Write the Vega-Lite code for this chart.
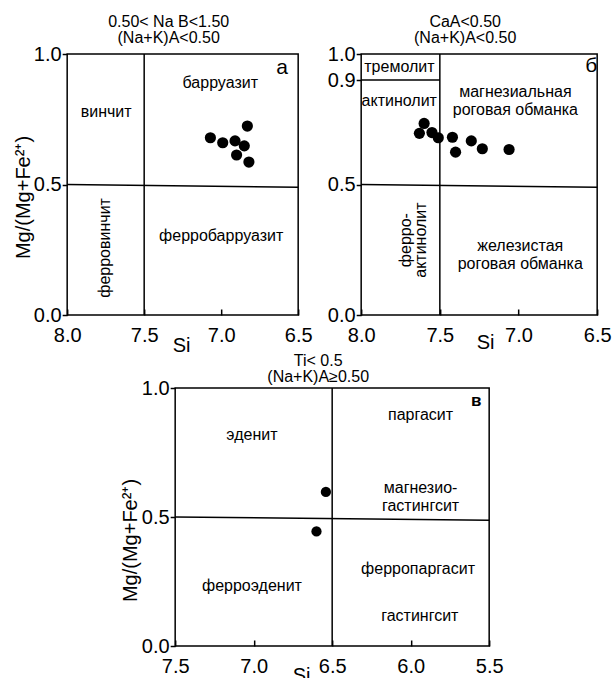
{
  "$schema": "https://vega.github.io/schema/vega-lite/v6.json",
  "padding": {"left": 12, "top": 13, "right": 2, "bottom": 0},
  "background": "white",
  "config": {
    "font": "Liberation Sans",
    "view": {"stroke": "black", "strokeWidth": 1.5},
    "axis": {
      "grid": false, "domain": false, "labelFontSize": 20, "labelColor": "black",
      "titleFontSize": 20, "titleFontWeight": "normal", "titleColor": "black",
      "tickColor": "black", "tickWidth": 1.5, "labelFont": "Liberation Sans", "titleFont": "Liberation Sans",
      "labelFlush": false, "labelOverlap": false, "labelBound": false
    },
    "axisY": {"tickSize": 5, "labelPadding": 1},
    "axisX": {"tickSize": -6, "labelPadding": 16.5},
    "title": {"fontSize": 16, "fontWeight": "normal", "color": "black", "font": "Liberation Sans", "lineHeight": 16, "offset": -2, "dx": -14},
    "text": {"font": "Liberation Sans", "fontSize": 16, "color": "black"}
  },
  "spacing": -6,
  "center": true,
  "vconcat": [
    {
      "spacing": 13,
      "hconcat": [
        {
          "width": 231, "height": 261,
          "title": {"text": ["0.50< Na B<1.50", "(Na+K)A<0.50"]},
          "layer": [
            {
              "data": {"values": [
                {"x1": 7.5, "y1": 0, "x2": 7.5, "y2": 1},
                {"x1": 8, "y1": 0.5, "x2": 6.5, "y2": 0.489}
              ]},
              "mark": {"type": "rule", "color": "black", "strokeWidth": 1.5},
              "encoding": {
                "x": {"field": "x1", "type": "quantitative", "scale": {"domain": [8, 6.5], "nice": false, "zero": false},
                      "axis": {"values": [8, 7.5, 7, 6.5], "format": ".1f", "title": "Si", "titleX": 114, "titleY": 20.5}},
                "y": {"field": "y1", "type": "quantitative", "scale": {"domain": [0, 1], "nice": false, "zero": false},
                      "axis": {"values": [0, 0.5, 1], "format": ".1f", "title": "Mg/(Mg+Fe²⁺)", "titleX": -34, "titleY": 143}},
                "x2": {"field": "x2"},
                "y2": {"field": "y2"}
              }
            },
            {
              "data": {"values": [
                {"si": 7.07, "mg": 0.679},
                {"si": 6.99, "mg": 0.660},
                {"si": 6.91, "mg": 0.667},
                {"si": 6.83, "mg": 0.724},
                {"si": 6.85, "mg": 0.648},
                {"si": 6.90, "mg": 0.613},
                {"si": 6.82, "mg": 0.586}
              ]},
              "mark": {"type": "point", "filled": true, "size": 125, "color": "black", "opacity": 1},
              "encoding": {
                "x": {"field": "si", "type": "quantitative", "scale": {"domain": [8, 6.5], "nice": false, "zero": false}},
                "y": {"field": "mg", "type": "quantitative", "scale": {"domain": [0, 1], "nice": false, "zero": false}}
              }
            },
            {
              "data": {"values": [
                {"si": 7.006, "mg": 0.89, "label": "барруазит"},
                {"si": 7.747, "mg": 0.779, "label": "винчит"},
                {"si": 7.0, "mg": 0.303, "label": "ферробарруазит"}
              ]},
              "mark": {"type": "text", "baseline": "middle", "align": "center"},
              "encoding": {
                "x": {"field": "si", "type": "quantitative", "scale": {"domain": [8, 6.5], "nice": false, "zero": false}},
                "y": {"field": "mg", "type": "quantitative", "scale": {"domain": [0, 1], "nice": false, "zero": false}},
                "text": {"field": "label"}
              }
            },
            {
              "data": {"values": [
                {"si": 7.753, "mg": 0.257, "label": "ферровинчит"}
              ]},
              "mark": {"type": "text", "baseline": "middle", "align": "center", "angle": 270},
              "encoding": {
                "x": {"field": "si", "type": "quantitative", "scale": {"domain": [8, 6.5], "nice": false, "zero": false}},
                "y": {"field": "mg", "type": "quantitative", "scale": {"domain": [0, 1], "nice": false, "zero": false}},
                "text": {"field": "label"}
              }
            },
            {
              "data": {"values": [
                {"si": 6.604, "mg": 0.948, "label": "а"}
              ]},
              "mark": {"type": "text", "baseline": "middle", "align": "center", "fontSize": 21},
              "encoding": {
                "x": {"field": "si", "type": "quantitative", "scale": {"domain": [8, 6.5], "nice": false, "zero": false}},
                "y": {"field": "mg", "type": "quantitative", "scale": {"domain": [0, 1], "nice": false, "zero": false}},
                "text": {"field": "label"}
              }
            }
          ]
        },
        {
          "width": 236, "height": 261,
          "title": {"text": ["CaA<0.50", "(Na+K)A<0.50"]},
          "layer": [
            {
              "data": {"values": [
                {"x1": 7.5, "y1": 0, "x2": 7.5, "y2": 1},
                {"x1": 8, "y1": 0.9, "x2": 7.5, "y2": 0.9},
                {"x1": 8, "y1": 0.5, "x2": 6.5, "y2": 0.489}
              ]},
              "mark": {"type": "rule", "color": "black", "strokeWidth": 1.5},
              "encoding": {
                "x": {"field": "x1", "type": "quantitative", "scale": {"domain": [8, 6.5], "nice": false, "zero": false},
                      "axis": {"values": [8, 7.5, 7, 6.5], "format": ".1f", "title": "Si", "titleX": 124, "titleY": 17.5}},
                "y": {"field": "y1", "type": "quantitative", "scale": {"domain": [0, 1], "nice": false, "zero": false},
                      "axis": {"values": [0, 0.5, 0.9, 1], "format": ".1f", "title": null}},
                "x2": {"field": "x2"},
                "y2": {"field": "y2"}
              }
            },
            {
              "data": {"values": [
                {"si": 7.60, "mg": 0.734},
                {"si": 7.63, "mg": 0.696},
                {"si": 7.55, "mg": 0.699},
                {"si": 7.51, "mg": 0.679},
                {"si": 7.42, "mg": 0.681},
                {"si": 7.40, "mg": 0.624},
                {"si": 7.30, "mg": 0.667},
                {"si": 7.23, "mg": 0.637},
                {"si": 7.06, "mg": 0.634}
              ]},
              "mark": {"type": "point", "filled": true, "size": 125, "color": "black", "opacity": 1},
              "encoding": {
                "x": {"field": "si", "type": "quantitative", "scale": {"domain": [8, 6.5], "nice": false, "zero": false}},
                "y": {"field": "mg", "type": "quantitative", "scale": {"domain": [0, 1], "nice": false, "zero": false}}
              }
            },
            {
              "data": {"values": [
                {"si": 7.757, "mg": 0.951, "label": "тремолит"},
                {"si": 7.758, "mg": 0.82, "label": "актинолит"},
                {"si": 7.02, "mg": 0.856, "label": "магнезиальная\nроговая обманка"},
                {"si": 6.989, "mg": 0.264, "label": "железистая\nроговая обманка"}
              ]},
              "mark": {"type": "text", "baseline": "middle", "align": "center", "lineBreak": "\n", "lineHeight": 18},
              "encoding": {
                "x": {"field": "si", "type": "quantitative", "scale": {"domain": [8, 6.5], "nice": false, "zero": false}},
                "y": {"field": "mg", "type": "quantitative", "scale": {"domain": [0, 1], "nice": false, "zero": false}},
                "text": {"field": "label"}
              }
            },
            {
              "data": {"values": [
                {"si": 7.712, "mg": 0.287, "label": "ферро-\nактинолит"}
              ]},
              "mark": {"type": "text", "baseline": "middle", "align": "center", "angle": 270, "lineBreak": "\n", "lineHeight": 15},
              "encoding": {
                "x": {"field": "si", "type": "quantitative", "scale": {"domain": [8, 6.5], "nice": false, "zero": false}},
                "y": {"field": "mg", "type": "quantitative", "scale": {"domain": [0, 1], "nice": false, "zero": false}},
                "text": {"field": "label"}
              }
            },
            {
              "data": {"values": [
                {"si": 6.538, "mg": 0.954, "label": "б"}
              ]},
              "mark": {"type": "text", "baseline": "middle", "align": "center", "fontSize": 21},
              "encoding": {
                "x": {"field": "si", "type": "quantitative", "scale": {"domain": [8, 6.5], "nice": false, "zero": false}},
                "y": {"field": "mg", "type": "quantitative", "scale": {"domain": [0, 1], "nice": false, "zero": false}},
                "text": {"field": "label"}
              }
            }
          ]
        }
      ]
    },
    {
      "width": 314, "height": 258,
      "title": {"text": ["Ti< 0.5", "(Na+K)A≥0.50"], "offset": -6.5},
      "layer": [
        {
          "data": {"values": [
            {"x1": 6.5, "y1": 0, "x2": 6.5, "y2": 1},
            {"x1": 7.5, "y1": 0.5, "x2": 5.5, "y2": 0.487}
          ]},
          "mark": {"type": "rule", "color": "black", "strokeWidth": 1.5},
          "encoding": {
            "x": {"field": "x1", "type": "quantitative", "scale": {"domain": [7.5, 5.5], "nice": false, "zero": false},
                  "axis": {"values": [7.5, 7, 6.5, 6, 5.5], "format": ".1f", "title": "Si", "titleX": 126, "titleY": 19}},
            "y": {"field": "y1", "type": "quantitative", "scale": {"domain": [0, 1], "nice": false, "zero": false},
                  "axis": {"values": [0, 0.5, 1], "format": ".1f", "title": "Mg/(Mg+Fe²⁺)", "titleX": -35, "titleY": 152}},
            "x2": {"field": "x2"},
            "y2": {"field": "y2"}
          }
        },
        {
          "data": {"values": [
            {"si": 6.54, "mg": 0.597},
            {"si": 6.60, "mg": 0.444}
          ]},
          "mark": {"type": "point", "filled": true, "size": 105, "color": "black", "opacity": 1},
          "encoding": {
            "x": {"field": "si", "type": "quantitative", "scale": {"domain": [7.5, 5.5], "nice": false, "zero": false}},
            "y": {"field": "mg", "type": "quantitative", "scale": {"domain": [0, 1], "nice": false, "zero": false}}
          }
        },
        {
          "data": {"values": [
            {"si": 7.011, "mg": 0.816, "label": "эденит"},
            {"si": 5.937, "mg": 0.897, "label": "паргасит"},
            {"si": 5.937, "mg": 0.614, "label": "магнезио-\nгастингсит"},
            {"si": 7.011, "mg": 0.233, "label": "ферроэденит"},
            {"si": 5.953, "mg": 0.300, "label": "ферропаргасит"},
            {"si": 5.942, "mg": 0.117, "label": "гастингсит"}
          ]},
          "mark": {"type": "text", "baseline": "middle", "align": "center", "lineBreak": "\n", "lineHeight": 18},
          "encoding": {
            "x": {"field": "si", "type": "quantitative", "scale": {"domain": [7.5, 5.5], "nice": false, "zero": false}},
            "y": {"field": "mg", "type": "quantitative", "scale": {"domain": [0, 1], "nice": false, "zero": false}},
            "text": {"field": "label"}
          }
        },
        {
          "data": {"values": [
            {"si": 5.583, "mg": 0.951, "label": "в"}
          ]},
          "mark": {"type": "text", "baseline": "middle", "align": "center", "fontSize": 17, "fontWeight": "bold"},
          "encoding": {
            "x": {"field": "si", "type": "quantitative", "scale": {"domain": [7.5, 5.5], "nice": false, "zero": false}},
            "y": {"field": "mg", "type": "quantitative", "scale": {"domain": [0, 1], "nice": false, "zero": false}},
            "text": {"field": "label"}
          }
        }
      ]
    }
  ]
}
